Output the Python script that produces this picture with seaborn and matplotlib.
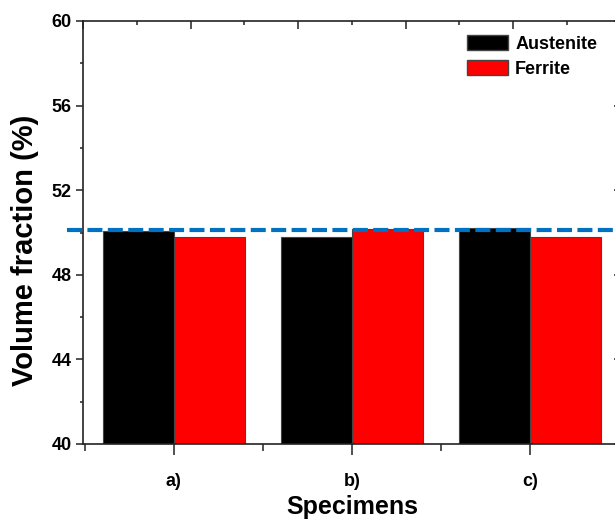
import matplotlib
matplotlib.use("Agg")
import matplotlib.pyplot as plt
import seaborn as sns
import pandas as pd
from matplotlib.patches import Patch
from matplotlib.ticker import MultipleLocator

specimens = ["a)", "b)", "c)"]
austenite = [50.05, 49.8, 50.2]
ferrite = [49.8, 50.15, 49.8]
reference_level = 50.1
y_ticks = [40, 44, 48, 52, 56, 60]

sns.set_style("ticks")
plt.rcParams["font.family"] = ["Liberation Sans", "DejaVu Sans"]
plt.rcParams["font.weight"] = "bold"
plt.rcParams["text.color"] = "black"
plt.rcParams["axes.labelcolor"] = "black"
plt.rcParams["xtick.color"] = "#222222"
plt.rcParams["ytick.color"] = "#222222"
plt.rcParams["xtick.labelcolor"] = "black"
plt.rcParams["ytick.labelcolor"] = "black"

df = pd.DataFrame({
    "Specimen": specimens * 2,
    "Phase": ["Austenite"] * 3 + ["Ferrite"] * 3,
    "Value": austenite + ferrite,
})

fig = plt.figure(figsize=(6.15, 5.19), dpi=100)
ax = fig.add_axes([83 / 615, 1 - 444 / 519, 537.6 / 615, 423 / 519])

sns.barplot(data=df, x="Specimen", y="Value", hue="Phase",
            palette={"Austenite": "#000000", "Ferrite": "#FF0000"},
            saturation=1, edgecolor="#444444", linewidth=0.8, width=0.8, ax=ax,
            legend=False, errorbar=None)

ax.set_xlim(-0.51, 2.51)
ax.set_ylim(40, 60)
ax.set_yticks(y_ticks)
ax.yaxis.set_minor_locator(MultipleLocator(2))
ax.set_xticks([0, 1, 2])
ax.set_xticks([-0.5, 0.5, 1.5], minor=True)
ax.set_xticklabels(specimens, fontsize=13, fontweight="bold", color="black")
for lab in ax.get_yticklabels():
    lab.set_fontsize(13)
    lab.set_fontweight("bold")
    lab.set_color("black")

ax.tick_params(axis="y", which="major", direction="out", length=5, width=1.1, pad=3)
ax.tick_params(axis="y", which="minor", direction="out", length=2.5, width=1.1)
ax.tick_params(axis="x", which="major", direction="out", length=8, width=1.1, pad=13)
ax.tick_params(axis="x", which="minor", direction="out", length=5, width=1.1)

for sp in ax.spines.values():
    sp.set_visible(True)
    sp.set_linewidth(1.2)
    sp.set_color("#222222")

ax.set_xlabel("Specimens", fontsize=18, fontweight="bold", color="black")
ax.set_ylabel("Volume fraction (%)", fontsize=21, fontweight="bold", color="black")
ax.xaxis.set_label_coords(0.5, (444 - 507) / 423)
ax.xaxis.label.set_va("center")
ax.yaxis.set_label_coords((25 - 83) / 537.6, (444 - 250) / 423)
ax.yaxis.label.set_va("center")

# top axis ticks (inward)
axt = ax.twiny()
axt.set_xlim(0, 10)
axt.set_xticks(range(0, 11, 2))
axt.set_xticks(range(1, 10, 2), minor=True)
axt.tick_params(axis="x", which="major", direction="in", length=6, width=1.1, labeltop=False)
axt.tick_params(axis="x", which="minor", direction="in", length=3, width=1.1)
for sp in axt.spines.values():
    sp.set_visible(False)

# right axis ticks (inward)
axr = ax.twinx()
axr.set_ylim(40, 60)
axr.set_yticks(y_ticks)
axr.tick_params(axis="y", direction="in", length=5, width=1.1, labelright=False)
for sp in axr.spines.values():
    sp.set_visible(False)

ax.plot([-0.6, 2.6], [reference_level, reference_level], color="#0070C0",
        linewidth=3, dashes=(3.6, 1.3), clip_on=False, zorder=5)

handles = [Patch(facecolor="#000000", edgecolor="#444444", label="Austenite"),
           Patch(facecolor="#FF0000", edgecolor="#444444", label="Ferrite")]
ax.legend(handles=handles, loc="upper left", bbox_to_anchor=(0.714, 0.968),
          frameon=False, borderpad=0, borderaxespad=0, handlelength=2.3,
          handleheight=0.95, handletextpad=0.38, labelspacing=0.4,
          prop={"size": 13, "weight": "bold"}, labelcolor="black")

fig.savefig("out.png", dpi=100)
